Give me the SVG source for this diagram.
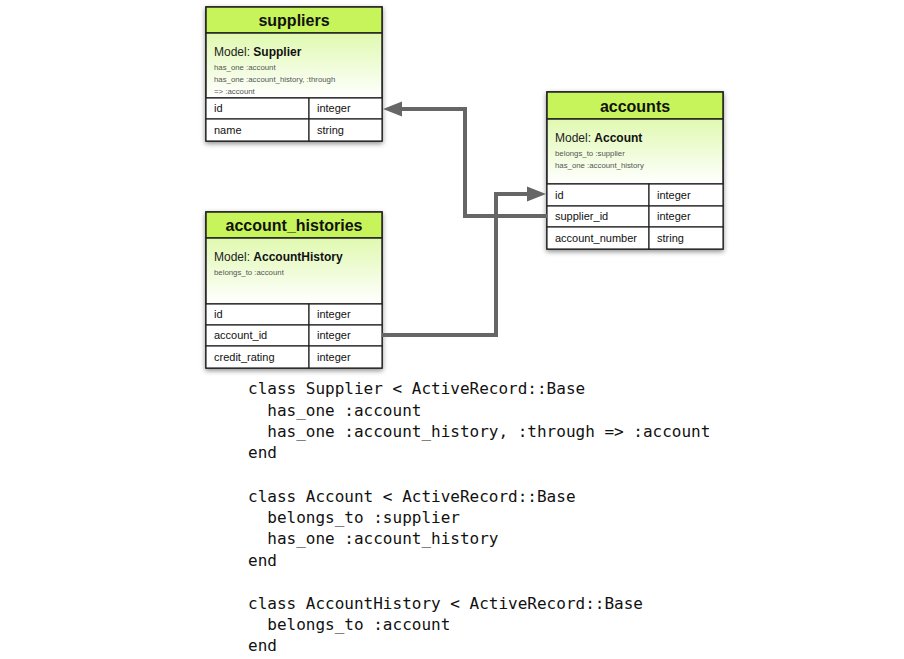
<svg xmlns="http://www.w3.org/2000/svg" width="904" height="659" viewBox="0 0 904 659">
<style>
.box{fill:#fff;stroke:#222;stroke-width:1.5}
.hdr{fill:#c6f45a;stroke:#222;stroke-width:1.5}
.mdl{fill:url(#g);stroke:#222;stroke-width:1.5}
.cell{fill:#fff;stroke:#222;stroke-width:1.2}
.ht{font-family:"Liberation Sans",Arial,sans-serif;font-weight:bold;font-size:16px;fill:#111;text-anchor:middle}
.mt{font-family:"Liberation Sans",Arial,sans-serif;font-size:12px;fill:#222}
.mt tspan{font-weight:bold;fill:#111}
.st{font-family:"Liberation Sans",Arial,sans-serif;font-size:7.8px;fill:#555}
.ft{font-family:"Liberation Sans",Arial,sans-serif;font-size:11px;fill:#111}
.code{font-family:"DejaVu Sans Mono","Liberation Mono",monospace;font-size:16px;fill:#111;white-space:pre}
.conn{fill:none;stroke:#666;stroke-width:4}
</style>
<defs>
<linearGradient id="g" x1="0" y1="0" x2="0" y2="1">
<stop offset="0" stop-color="#e0f9b0"/>
<stop offset="1" stop-color="#ffffff"/>
</linearGradient>
<filter id="sh" x="-10%" y="-10%" width="120%" height="130%">
<feDropShadow dx="0" dy="2" stdDeviation="2.5" flood-color="#000" flood-opacity="0.45"/>
</filter>
</defs>

<g id="suppliers">
<rect class="box" x="206" y="7" width="176" height="134" filter="url(#sh)"/>
<rect class="hdr" x="206" y="7" width="176" height="26"/>
<rect class="mdl" x="206" y="33" width="176" height="65"/>
<rect class="cell" x="206" y="98" width="103" height="21"/>
<rect class="cell" x="309" y="98" width="73" height="21"/>
<rect class="cell" x="206" y="119" width="103" height="22"/>
<rect class="cell" x="309" y="119" width="73" height="22"/>
<text class="ht" x="294" y="26">suppliers</text>
<text class="mt" x="214" y="56">Model: <tspan>Supplier</tspan></text>
<text class="st" x="214" y="70">has_one :account</text>
<text class="st" x="214" y="82">has_one :account_history, :through</text>
<text class="st" x="214" y="94">=&gt; :account</text>
<text class="ft" x="214" y="112">id</text>
<text class="ft" x="317" y="112">integer</text>
<text class="ft" x="214" y="134">name</text>
<text class="ft" x="317" y="134">string</text>
</g>

<g id="accounts">
<rect class="box" x="547" y="92" width="176" height="157" filter="url(#sh)"/>
<rect class="hdr" x="547" y="92" width="176" height="27"/>
<rect class="mdl" x="547" y="119" width="176" height="65"/>
<rect class="cell" x="547" y="184" width="102" height="22"/>
<rect class="cell" x="649" y="184" width="74" height="22"/>
<rect class="cell" x="547" y="206" width="102" height="21"/>
<rect class="cell" x="649" y="206" width="74" height="21"/>
<rect class="cell" x="547" y="227" width="102" height="22"/>
<rect class="cell" x="649" y="227" width="74" height="22"/>
<text class="ht" x="635" y="112">accounts</text>
<text class="mt" x="555" y="142">Model: <tspan>Account</tspan></text>
<text class="st" x="555" y="156">belongs_to :supplier</text>
<text class="st" x="555" y="168">has_one :account_history</text>
<text class="ft" x="555" y="199">id</text>
<text class="ft" x="657" y="199">integer</text>
<text class="ft" x="555" y="220">supplier_id</text>
<text class="ft" x="657" y="220">integer</text>
<text class="ft" x="555" y="242">account_number</text>
<text class="ft" x="657" y="242">string</text>
</g>

<g id="account_histories">
<rect class="box" x="206" y="212" width="176" height="156" filter="url(#sh)"/>
<rect class="hdr" x="206" y="212" width="176" height="26"/>
<rect class="mdl" x="206" y="238" width="176" height="66"/>
<rect class="cell" x="206" y="304" width="103" height="21"/>
<rect class="cell" x="309" y="304" width="73" height="21"/>
<rect class="cell" x="206" y="325" width="103" height="21"/>
<rect class="cell" x="309" y="325" width="73" height="21"/>
<rect class="cell" x="206" y="346" width="103" height="22"/>
<rect class="cell" x="309" y="346" width="73" height="22"/>
<text class="ht" x="294" y="231">account_histories</text>
<text class="mt" x="214" y="261">Model: <tspan>AccountHistory</tspan></text>
<text class="st" x="214" y="275">belongs_to :account</text>
<text class="ft" x="214" y="318">id</text>
<text class="ft" x="317" y="318">integer</text>
<text class="ft" x="214" y="339">account_id</text>
<text class="ft" x="317" y="339">integer</text>
<text class="ft" x="214" y="361">credit_rating</text>
<text class="ft" x="317" y="361">integer</text>
</g>

<g id="connectors">
<path class="conn" d="M547,216 H465 V109 H401"/>
<path d="M383,109 L402,101.5 L402,116.5 Z" fill="#666"/>
<path class="conn" d="M382,335 H496 V194 H528"/>
<path d="M546,194 L527,186.5 L527,201.5 Z" fill="#666"/>
</g>

<g id="code">
<text class="code" x="248" y="394">class Supplier &lt; ActiveRecord::Base</text>
<text class="code" x="248" y="415.5">  has_one :account</text>
<text class="code" x="248" y="437">  has_one :account_history, :through =&gt; :account</text>
<text class="code" x="248" y="458.4">end</text>
<text class="code" x="248" y="501.5">class Account &lt; ActiveRecord::Base</text>
<text class="code" x="248" y="523">  belongs_to :supplier</text>
<text class="code" x="248" y="544.3">  has_one :account_history</text>
<text class="code" x="248" y="565.7">end</text>
<text class="code" x="248" y="608.6">class AccountHistory &lt; ActiveRecord::Base</text>
<text class="code" x="248" y="630">  belongs_to :account</text>
<text class="code" x="248" y="651.4">end</text>
</g>
</svg>
